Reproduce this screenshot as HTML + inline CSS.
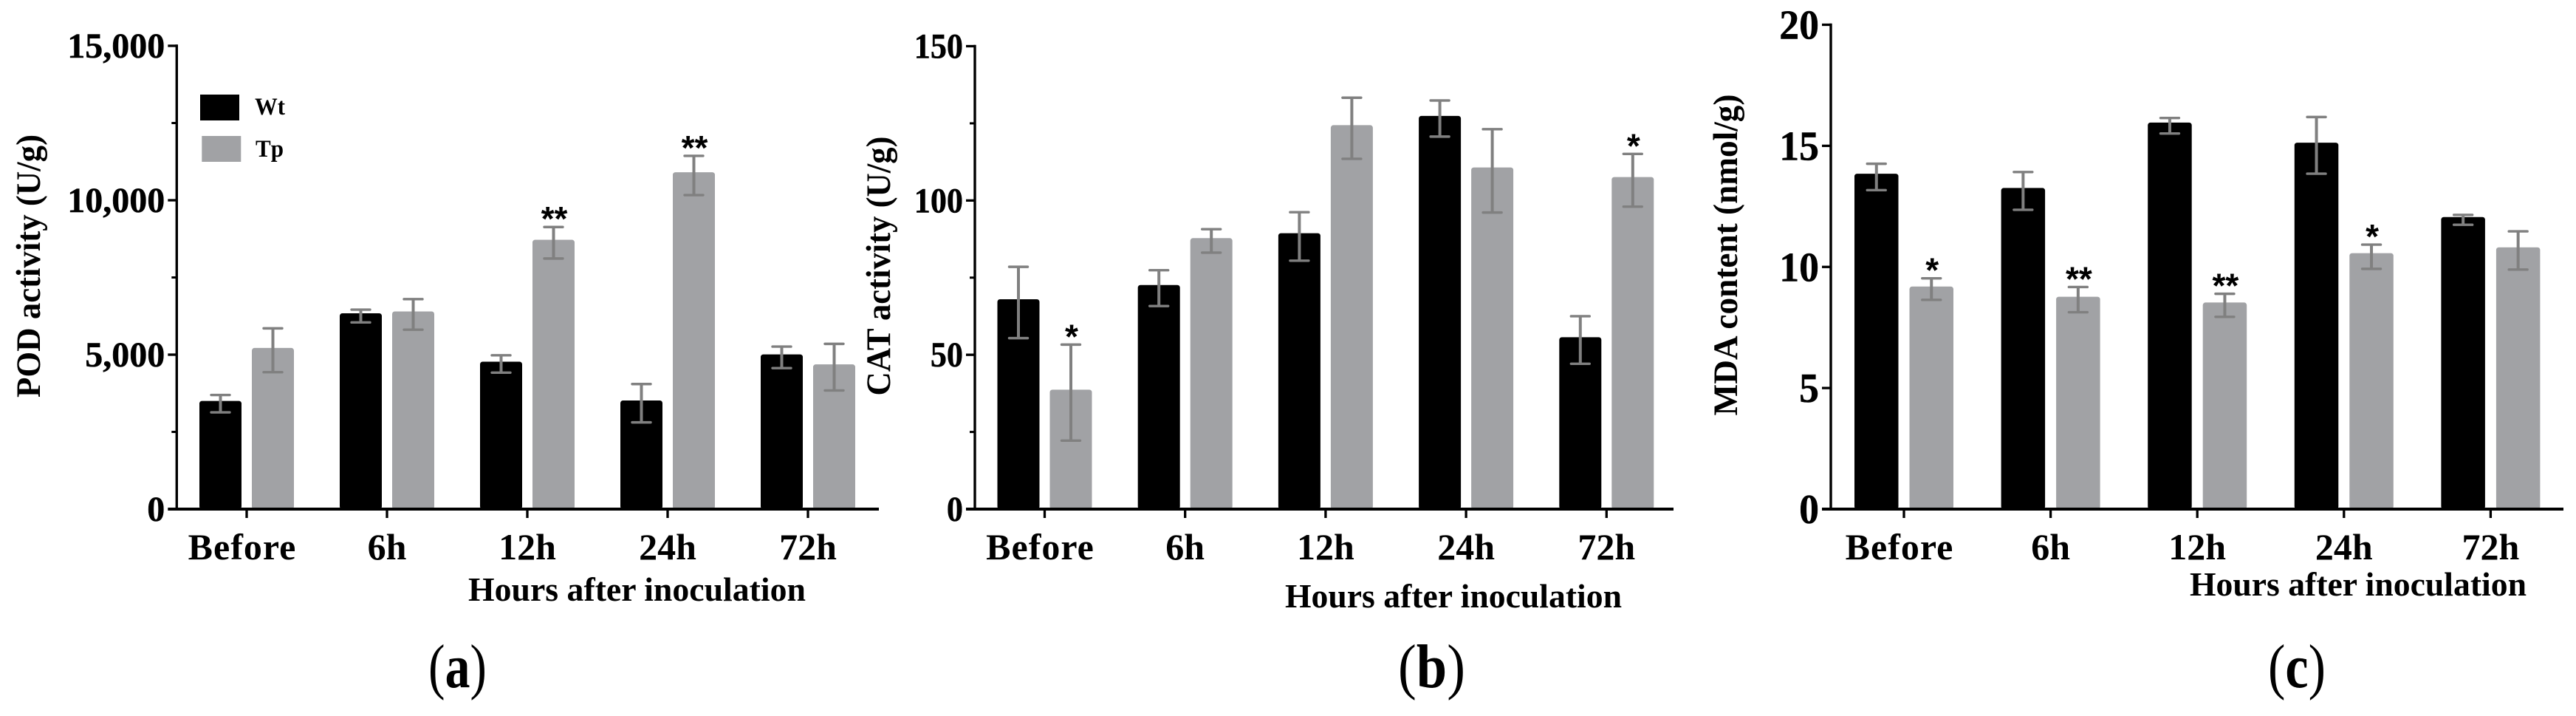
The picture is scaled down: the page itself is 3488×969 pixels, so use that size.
<!DOCTYPE html>
<html lang="en">
<head>
<meta charset="utf-8">
<title>POD, CAT and MDA after inoculation</title>
<style>
html,body{margin:0;padding:0;background:#fff;}
svg{display:block;}
text{font-family:"Liberation Serif",serif;font-weight:bold;fill:#000;}
</style>
</head>
<body>
<svg id="figure" xmlns="http://www.w3.org/2000/svg" width="3488" height="969" viewBox="0 0 3488 969">
  <rect x="0" y="0" width="3488" height="969" fill="#fff"/>

  <g id="panel-a"></g>
  <g id="panel-b"></g>
  <g id="panel-c"></g>

  <text transform="translate(54,360) rotate(-90)" text-anchor="middle" font-size="47" textLength="356" lengthAdjust="spacingAndGlyphs">POD activity (U/g)</text>
  <text transform="translate(1205,360) rotate(-90)" text-anchor="middle" font-size="47" textLength="351" lengthAdjust="spacingAndGlyphs">CAT activity (U/g)</text>
  <text transform="translate(2352,345) rotate(-90)" text-anchor="middle" font-size="47" textLength="435" lengthAdjust="spacingAndGlyphs">MDA content (nmol/g)</text>

  <text x="634" y="813" font-size="46" textLength="457" lengthAdjust="spacingAndGlyphs">Hours after inoculation</text>
  <text x="1740" y="822" font-size="46" textLength="456" lengthAdjust="spacingAndGlyphs">Hours after inoculation</text>
  <text x="2965" y="806" font-size="46" textLength="456" lengthAdjust="spacingAndGlyphs">Hours after inoculation</text>

  <text x="580" y="930" font-size="84" textLength="79" lengthAdjust="spacingAndGlyphs"><tspan font-weight="normal">(</tspan>a<tspan font-weight="normal">)</tspan></text>
  <text x="1893" y="930" font-size="84" textLength="91" lengthAdjust="spacingAndGlyphs"><tspan font-weight="normal">(</tspan>b<tspan font-weight="normal">)</tspan></text>
  <text x="3071" y="930" font-size="84" textLength="78" lengthAdjust="spacingAndGlyphs"><tspan font-weight="normal">(</tspan>c<tspan font-weight="normal">)</tspan></text>

  <g>
    <rect x="271" y="128" width="53" height="35" fill="#000"/>
    <text x="345" y="155" font-size="33" textLength="41" lengthAdjust="spacingAndGlyphs">Wt</text>
    <rect x="273.3" y="184" width="53" height="35" fill="#a1a2a5"/>
    <text x="346" y="212" font-size="33" textLength="38" lengthAdjust="spacingAndGlyphs">Tp</text>
  </g>
</svg>

<script>
// Shared category labels
const categories = ['Before', '6h', '12h', '24h', '72h'];

// POD activity (U/g)
const podTickValues = [0, 5000, 10000, 15000];
const podTickLabels = ['0', '5,000', '10,000', '15,000'];
const podMinorTicks = [2500, 7500, 12500];
const podWt = [3502, 6340, 4773, 3517, 5010];
const podWtHigh = [3695, 6458, 4980, 4049, 5261];
const podWtLow = [3133, 6044, 4419, 2808, 4566];
const podTp = [5217, 6399, 8719, 10906, 4685];
const podTpHigh = [5852, 6798, 9133, 11438, 5350];
const podTpLow = [4433, 5808, 8113, 10167, 3842];
const podStars = ['', '', '**', '**', ''];

// CAT activity (U/g)
const catTickValues = [0, 50, 100, 150];
const catTickLabels = ['0', '50', '100', '150'];
const catMinorTicks = [25, 75, 125];
const catWt = [68.0, 72.6, 89.4, 127.4, 55.7];
const catWtHigh = [78.5, 77.4, 96.2, 132.4, 62.5];
const catWtLow = [55.4, 65.8, 80.5, 120.7, 47.1];
const catTp = [38.7, 87.8, 124.4, 110.7, 107.6];
const catTpHigh = [53.3, 90.7, 133.3, 123.1, 115.1];
const catTpLow = [22.2, 83.1, 113.5, 96.1, 98.0];
const catStars = ['*', '', '', '', '*'];

// MDA content (nmol/g)
const mdaTickValues = [0, 5, 10, 15, 20];
const mdaTickLabels = ['0', '5', '10', '15', '20'];
const mdaMinorTicks = [];
const mdaWt = [13.85, 13.26, 15.96, 15.13, 12.06];
const mdaWtHigh = [14.26, 13.92, 16.15, 16.19, 12.15];
const mdaWtLow = [13.17, 12.36, 15.51, 13.85, 11.74];
const mdaTp = [9.19, 8.77, 8.53, 10.57, 10.81];
const mdaTpHigh = [9.53, 9.17, 8.89, 10.92, 11.47];
const mdaTpLow = [8.64, 8.13, 7.94, 9.92, 9.89];
const mdaStars = ['*', '**', '**', '*', ''];

const NS = 'http://www.w3.org/2000/svg';

function make(parent, tag, attrs) {
  const el = document.createElementNS(NS, tag);
  for (const k in attrs) el.setAttribute(k, attrs[k]);
  parent.appendChild(el);
  return el;
}

function drawPanel(o) {
  const g = document.getElementById(o.id);
  const xScale = function (i) { return o.firstX + o.stepX * i; };
  const yScale = function (v) { return o.zeroY - (v / o.maxV) * (o.zeroY - o.topY); };

  // bars, error bars
  categories.forEach(function (cat, i) {
    const cx = xScale(i);
    const series = [
      { key: 'wt', val: o.wt[i], hi: o.wtHigh[i], lo: o.wtLow[i], color: '#000', left: cx - o.barOuter },
      { key: 'tp', val: o.tp[i], hi: o.tpHigh[i], lo: o.tpLow[i], color: '#a1a2a5', left: cx + o.barOuter - o.barW }
    ];
    series.forEach(function (s) {
      const bar = make(g, 'rect', { x: s.left, y: yScale(s.val), width: o.barW, height: o.zeroY - yScale(s.val), fill: s.color, rx: 3.5 });
      
      
      const mid = s.left + o.barW / 2;
      const stem = make(g, 'line', { x1: mid, x2: mid, y1: yScale(s.hi), y2: yScale(s.lo), stroke: '#808080', 'stroke-width': 4 });
      
      
      const capHi = make(g, 'line', { x1: mid - 12.5, x2: mid + 12.5, y1: yScale(s.hi), y2: yScale(s.hi), stroke: '#808080', 'stroke-width': 3.4, 'stroke-linecap': 'round' });
      
      
      const capLo = make(g, 'line', { x1: mid - 12.5, x2: mid + 12.5, y1: yScale(s.lo), y2: yScale(s.lo), stroke: '#808080', 'stroke-width': 3.4, 'stroke-linecap': 'round' });
      
      
    });
    if (o.stars[i]) {
      const star = make(g, 'text', { x: cx + o.barOuter - o.barW / 2 + 1, y: yScale(o.tpHigh[i]) + 5, 'text-anchor': 'middle', 'font-size': 46, style: 'font-family:"Liberation Sans",sans-serif' });
      star.textContent = o.stars[i];
      
      
    }
    const tick = make(g, 'line', { x1: cx, x2: cx, y1: o.zeroY, y2: o.zeroY + 12, stroke: '#000', 'stroke-width': 3.3 });
    
    
    const lab = make(g, 'text', { x: cx - (i === 0 ? 6 : 0), y: 757, 'text-anchor': 'middle', 'font-size': 50 });
    if (i === 0) lab.setAttribute('letter-spacing', '1');
    lab.textContent = cat;
    
    
  });

  // axes
  const yAxis = make(g, 'line', { x1: o.axisX, x2: o.axisX, y1: o.topY - 1.7, y2: o.zeroY + 2, stroke: '#000', 'stroke-width': 3.4 });
  
  
  const xAxis = make(g, 'line', { x1: o.axisX - 12, x2: o.axisEnd, y1: o.zeroY, y2: o.zeroY, stroke: '#000', 'stroke-width': 4 });
  
  

  o.tickValues.forEach(function (v, i) {
    const y = yScale(v);
    if (v !== 0) {
      const t = make(g, 'line', { x1: o.axisX - 12, x2: o.axisX, y1: y, y2: y, stroke: '#000', 'stroke-width': 3.3 });
      
      
    }
    const lab = make(g, 'text', { x: o.axisX - 16, y: y + o.labelDrop, 'text-anchor': 'end', 'font-size': o.labelSize, stroke: '#000', 'stroke-width': 0.5 });
    lab.textContent = o.tickLabels[i];
    
    
    lab.setAttribute('textLength', lab.getComputedTextLength() * o.labelStretch);
    lab.setAttribute('lengthAdjust', 'spacingAndGlyphs');
  });
  o.minorTicks.forEach(function (v) {
    const y = yScale(v);
    const t = make(g, 'line', { x1: o.axisX - 7, x2: o.axisX, y1: y, y2: y, stroke: '#000', 'stroke-width': 3 });
    
    
  });
}

drawPanel({
  id: 'panel-a', firstX: 334, stepX: 190, zeroY: 689, topY: 62, maxV: 15000,
  barW: 57, barOuter: 64, axisX: 239.3, axisEnd: 1190, labelSize: 48, labelStretch: 1.0, labelDrop: 16,
  tickValues: podTickValues, tickLabels: podTickLabels, minorTicks: podMinorTicks,
  wt: podWt, wtHigh: podWtHigh, wtLow: podWtLow, tp: podTp, tpHigh: podTpHigh, tpLow: podTpLow, stars: podStars
});
drawPanel({
  id: 'panel-b', firstX: 1414.5, stepX: 190.2, zeroY: 689, topY: 62.5, maxV: 150,
  barW: 57, barOuter: 64, axisX: 1320, axisEnd: 2266, labelSize: 48, labelStretch: 0.92, labelDrop: 16,
  tickValues: catTickValues, tickLabels: catTickLabels, minorTicks: catMinorTicks,
  wt: catWt, wtHigh: catWtHigh, wtLow: catWtLow, tp: catTp, tpHigh: catTpHigh, tpLow: catTpLow, stars: catStars
});
drawPanel({
  id: 'panel-c', firstX: 2578, stepX: 198.6, zeroY: 689, topY: 33.5, maxV: 20,
  barW: 59.5, barOuter: 67, axisX: 2479, axisEnd: 3471, labelSize: 56, labelStretch: 0.96, labelDrop: 19,
  tickValues: mdaTickValues, tickLabels: mdaTickLabels, minorTicks: mdaMinorTicks,
  wt: mdaWt, wtHigh: mdaWtHigh, wtLow: mdaWtLow, tp: mdaTp, tpHigh: mdaTpHigh, tpLow: mdaTpLow, stars: mdaStars
});
</script>
</body>
</html>
